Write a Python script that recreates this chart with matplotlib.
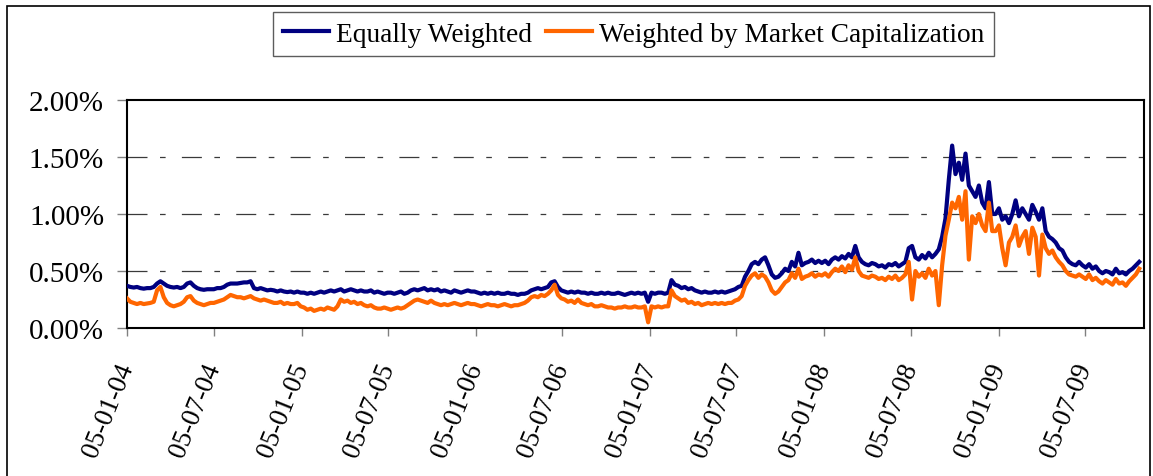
import numpy as np
import pandas as pd
import matplotlib
matplotlib.use("Agg")
import matplotlib.pyplot as plt
import matplotlib.dates as mdates
from matplotlib.patches import Rectangle
from matplotlib.ticker import FuncFormatter

plt.rcParams['font.family'] = ['Liberation Serif', 'DejaVu Serif']

# weekly readings (in %), one row per half-year starting 05-01-04
equal_w = [
    0.37, 0.36, 0.355, 0.36, 0.35, 0.345, 0.35, 0.35, 0.36, 0.39, 0.41, 0.39, 0.37, 0.36, 0.355, 0.36, 0.35, 0.36, 0.39, 0.40, 0.37, 0.35, 0.34, 0.335, 0.34, 0.34,
    0.34, 0.35, 0.35, 0.36, 0.38, 0.39, 0.39, 0.39, 0.395, 0.40, 0.40, 0.41, 0.35, 0.34, 0.35, 0.34, 0.33, 0.335, 0.33, 0.32, 0.33, 0.32, 0.315, 0.32, 0.31, 0.32,
    0.31, 0.31, 0.30, 0.31, 0.30, 0.31, 0.32, 0.31, 0.32, 0.33, 0.32, 0.33, 0.34, 0.32, 0.33, 0.34, 0.33, 0.32, 0.33, 0.32, 0.32, 0.33, 0.31, 0.32, 0.31, 0.30,
    0.31, 0.31, 0.30, 0.31, 0.32, 0.30, 0.31, 0.33, 0.34, 0.33, 0.34, 0.35, 0.33, 0.34, 0.33, 0.34, 0.32, 0.33, 0.32, 0.31, 0.33, 0.32, 0.31, 0.32, 0.33, 0.32,
    0.32, 0.31, 0.30, 0.31, 0.30, 0.31, 0.30, 0.31, 0.30, 0.30, 0.31, 0.30, 0.30, 0.29, 0.30, 0.30, 0.31, 0.33, 0.34, 0.35, 0.34, 0.35, 0.36, 0.40, 0.41, 0.36,
    0.33, 0.32, 0.31, 0.32, 0.31, 0.32, 0.31, 0.31, 0.30, 0.31, 0.30, 0.30, 0.31, 0.30, 0.31, 0.30, 0.30, 0.31, 0.30, 0.29, 0.30, 0.31, 0.30, 0.31, 0.30, 0.31,
    0.23, 0.31, 0.30, 0.31, 0.31, 0.30, 0.31, 0.42, 0.38, 0.37, 0.35, 0.36, 0.34, 0.35, 0.33, 0.32, 0.31, 0.32, 0.31, 0.31, 0.32, 0.31, 0.32, 0.31, 0.32, 0.33,
    0.34, 0.36, 0.37, 0.45, 0.50, 0.56, 0.58, 0.56, 0.60, 0.62, 0.55, 0.47, 0.44, 0.45, 0.48, 0.52, 0.50, 0.58, 0.54, 0.66, 0.55, 0.57, 0.58, 0.60, 0.57, 0.59,
    0.57, 0.59, 0.56, 0.60, 0.62, 0.60, 0.63, 0.61, 0.65, 0.62, 0.72, 0.62, 0.58, 0.56, 0.55, 0.57, 0.56, 0.54, 0.55, 0.53, 0.56, 0.55, 0.57, 0.54, 0.56, 0.58,
    0.70, 0.72, 0.62, 0.60, 0.64, 0.61, 0.66, 0.62, 0.65, 0.69, 0.80, 0.96, 1.30, 1.60, 1.35, 1.45, 1.30, 1.53, 1.25, 1.20, 1.15, 1.25, 1.10, 1.05, 1.28, 1.00,
    1.00, 1.05, 0.95, 0.98, 0.92, 1.00, 1.12, 0.98, 1.05, 1.00, 0.95, 1.08, 1.02, 0.95, 1.05, 0.85, 0.80, 0.78, 0.75, 0.70, 0.68, 0.62, 0.58, 0.56, 0.55, 0.58,
    0.55, 0.53, 0.56, 0.52, 0.54, 0.50, 0.48, 0.50, 0.49, 0.47, 0.52, 0.48, 0.49, 0.47, 0.50, 0.52, 0.55, 0.58,
]
mcap_w = [
    0.26, 0.23, 0.22, 0.21, 0.22, 0.21, 0.215, 0.22, 0.23, 0.33, 0.36, 0.27, 0.22, 0.20, 0.19, 0.20, 0.21, 0.23, 0.27, 0.28, 0.24, 0.22, 0.21, 0.20, 0.21, 0.22,
    0.22, 0.23, 0.24, 0.25, 0.27, 0.29, 0.28, 0.27, 0.27, 0.26, 0.27, 0.28, 0.26, 0.25, 0.24, 0.25, 0.24, 0.23, 0.22, 0.22, 0.23, 0.21, 0.22, 0.21, 0.21, 0.22,
    0.19, 0.18, 0.16, 0.17, 0.15, 0.16, 0.17, 0.16, 0.18, 0.17, 0.16, 0.19, 0.25, 0.23, 0.24, 0.22, 0.23, 0.21, 0.22, 0.20, 0.19, 0.20, 0.18, 0.17, 0.17, 0.18,
    0.17, 0.16, 0.17, 0.18, 0.17, 0.18, 0.20, 0.22, 0.24, 0.25, 0.24, 0.23, 0.22, 0.24, 0.22, 0.21, 0.20, 0.21, 0.20, 0.21, 0.22, 0.21, 0.20, 0.21, 0.22, 0.21,
    0.21, 0.20, 0.19, 0.20, 0.21, 0.20, 0.20, 0.19, 0.20, 0.21, 0.20, 0.19, 0.20, 0.20, 0.21, 0.22, 0.24, 0.27, 0.28, 0.27, 0.29, 0.28, 0.30, 0.33, 0.38, 0.29,
    0.26, 0.25, 0.23, 0.24, 0.22, 0.25, 0.22, 0.21, 0.20, 0.21, 0.19, 0.19, 0.20, 0.19, 0.18, 0.18, 0.17, 0.18, 0.18, 0.19, 0.18, 0.18, 0.19, 0.18, 0.18, 0.19,
    0.05, 0.19, 0.18, 0.19, 0.18, 0.19, 0.19, 0.33, 0.28, 0.26, 0.24, 0.25, 0.22, 0.23, 0.21, 0.22, 0.20, 0.21, 0.22, 0.21, 0.22, 0.21, 0.22, 0.21, 0.22, 0.22,
    0.24, 0.25, 0.28, 0.37, 0.42, 0.46, 0.48, 0.44, 0.47, 0.45, 0.40, 0.33, 0.30, 0.32, 0.36, 0.40, 0.42, 0.48, 0.44, 0.52, 0.43, 0.45, 0.46, 0.48, 0.45, 0.47,
    0.46, 0.48, 0.45, 0.49, 0.52, 0.50, 0.54, 0.49, 0.55, 0.51, 0.62, 0.50, 0.46, 0.45, 0.44, 0.46, 0.45, 0.43, 0.44, 0.42, 0.45, 0.43, 0.46, 0.42, 0.44, 0.47,
    0.58, 0.25, 0.50, 0.45, 0.48, 0.44, 0.52, 0.46, 0.50, 0.20, 0.55, 0.81, 0.95, 1.10, 1.05, 1.15, 0.95, 1.20, 0.60, 0.98, 0.92, 1.00, 0.90, 0.85, 1.10, 0.85,
    0.85, 0.90, 0.70, 0.55, 0.75, 0.80, 0.90, 0.72, 0.80, 0.85, 0.65, 0.88, 0.80, 0.46, 0.82, 0.70, 0.65, 0.68, 0.62, 0.58, 0.55, 0.50, 0.47, 0.46, 0.45, 0.47,
    0.45, 0.43, 0.47, 0.42, 0.44, 0.41, 0.39, 0.42, 0.40, 0.38, 0.43, 0.39, 0.40, 0.37, 0.41, 0.44, 0.47, 0.52,
]
dates = pd.date_range("2004-01-05", periods=len(equal_w), freq="7D")
tick_dates = pd.to_datetime(["2004-01-05", "2004-07-05", "2005-01-05", "2005-07-05",
                             "2006-01-05", "2006-07-05", "2007-01-05", "2007-07-05",
                             "2008-01-05", "2008-07-05", "2009-01-05", "2009-07-05"])
y_ticks = [0.0, 0.5, 1.0, 1.5, 2.0]

fig = plt.figure(figsize=(11.53, 4.77), dpi=100)
ax = fig.add_axes([127 / 1153, 1 - 329 / 477, (1144 - 127) / 1153, (329 - 101) / 477])

for y in y_ticks[1:-1]:
    ax.axhline(y, color="#3a3a3a", lw=0.9, dashes=(16, 10, 4.5, 13), zorder=1)

ax.plot(dates, equal_w, color="#000080", lw=3.0, label="Equally Weighted", zorder=3)
ax.plot(dates, mcap_w, color="#FF6600", lw=3.0, label="Weighted by Market Capitalization", zorder=4)

ax.set_xlim(pd.Timestamp("2004-01-05"), pd.Timestamp("2009-11-05"))
ax.set_ylim(0, 2.0)
ax.set_yticks(y_ticks)
ax.yaxis.set_major_formatter(FuncFormatter(lambda v, p: "%.2f%%" % v))
ax.set_xticks(tick_dates)
ax.xaxis.set_major_formatter(mdates.DateFormatter("%d-%m-%y"))

ax.tick_params(axis="y", direction="out", length=7.5, width=1, color="#808080",
               labelsize=21, pad=9)
ax.tick_params(axis="x", direction="out", length=6, width=1, color="#808080",
               labelsize=19.5, pad=20)
for lab in ax.get_xticklabels():
    lab.set_rotation(68)
    lab.set_ha("right")
    lab.set_va("center")
    lab.set_rotation_mode("anchor")

for s in ax.spines.values():
    s.set_linewidth(1.5)
    s.set_color("black")

leg = fig.legend(loc="upper center", bbox_to_anchor=(633.5 / 1153, 1 - 13 / 477),
                 ncol=2, fontsize=19.7, frameon=True, fancybox=False,
                 handlelength=1.7, handletextpad=0.25, columnspacing=0.5,
                 borderpad=0.35, borderaxespad=0)
leg.get_frame().set_edgecolor("#333333")
leg.get_frame().set_linewidth(1.0)

# outer chart border
fig.patches.append(Rectangle((7 / 1153, -0.05), (1150 - 7) / 1153, 1.05 - 7 / 477,
                             transform=fig.transFigure, fill=False,
                             edgecolor="black", lw=1.2))

fig.savefig("out.png", dpi=100)
